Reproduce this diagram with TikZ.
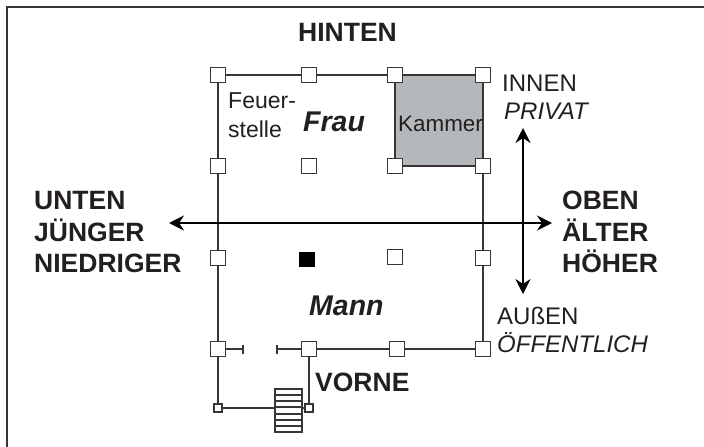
\documentclass[tikz,border=0pt]{standalone}
\usepackage{fontspec}
\setmainfont{Liberation Sans}
\usetikzlibrary{arrows.meta}
\definecolor{ink}{HTML}{231F20}
\definecolor{chamber}{HTML}{B5B8BA}
\tikzset{
 x=1pt,y=-1pt,
 wall/.style={draw=ink!90!white,line width=1.8pt},
 post/.style={draw=ink!90!white,fill=white,line width=1.5pt,minimum size=15pt,inner sep=0pt,outer sep=0pt},
 small/.style={post,minimum size=8pt,line width=1.2pt},
 blackpost/.style={draw=none,fill=black,minimum width=16pt,minimum height=15pt,inner sep=0pt,outer sep=0pt},
 axis/.style={draw=black,line width=1.8pt,{Stealth[length=15pt,width=15pt,inset=5pt]}-{Stealth[length=15pt,width=15pt,inset=5pt]}},
 head/.style={text=ink,font=\bfseries\fontsize{26.5}{30}\selectfont,inner sep=0pt,anchor=base west},
 room/.style={text=ink,font=\bfseries\itshape\fontsize{28.5}{30}\selectfont,inner sep=0pt,anchor=base west},
 plain/.style={text=ink,font=\fontsize{24}{26}\selectfont,inner sep=0pt,anchor=base west},
 slant/.style={text=ink,font=\itshape\fontsize{24}{26}\selectfont,inner sep=0pt,anchor=base west},
 fire/.style={text=ink,font=\fontsize{23}{26}\selectfont,inner sep=0pt,anchor=base west},
}
\begin{document}
\begin{tikzpicture}
\useasboundingbox (0,0) rectangle (704,447);
\fill[white] (0,0) rectangle (704,447);
\draw[draw=ink!90!white,line width=2pt] (7,447) -- (7,7) -- (704,7);
% chamber
\fill[chamber] (395,75) rectangle (483,166);
\draw[wall] (395,75) rectangle (483,166);
% posts
\node[post] (a1) at (218,75) {};
\node[post] (a2) at (309,75) {};
\node[post] (a3) at (395,75) {};
\node[post] (a4) at (483,75) {};
\node[post] (b1) at (218,166) {};
\node[post] (b2) at (309,166) {};
\node[post] (b3) at (395,166) {};
\node[post] (b4) at (483,166) {};
\node[post] (c1) at (218,258) {};
\node[blackpost] (c2) at (307,259) {};
\node[post] (c3) at (395,257) {};
\node[post] (c4) at (483,258) {};
\node[post] (d1) at (218,349) {};
\node[post] (d2) at (309,349) {};
\node[post] (d3) at (397,349) {};
\node[post] (d4) at (483,349) {};
\node[small] (e1) at (218,408) {};
\node[small] (e2) at (309,408) {};
\coordinate (t1) at (243,349);
\coordinate (t2) at (277,349);
% walls
\draw[wall] (a1) -- (a2);
\draw[wall] (a2) -- (a3);
\draw[wall] (a4) -- (b4);
\draw[wall] (b4) -- (c4);
\draw[wall] (c4) -- (d4);
\draw[wall] (d4) -- (d3);
\draw[wall] (d3) -- (d2);
\draw[wall] (d2) -- (t2);
\draw[wall] (d1) -- (t1);
\draw[wall] (a1) -- (b1);
\draw[wall] (b1) -- (c1);
\draw[wall] (c1) -- (d1);
\draw[wall] (d1) -- (e1);
\draw[wall] (e1) -- (e2);
\draw[wall] (d2) -- (e2);
\draw[wall,line width=1.3pt] (243,344.5) -- (243,353.5);
\draw[wall,line width=1.3pt] (277,344.5) -- (277,353.5);
% stairs
\node[draw=ink!90!white,fill=white,line width=1.3pt,minimum width=27pt,minimum height=43pt,inner sep=0pt] (st) at (288.5,410.5) {};
\foreach \y in {395,401,407,414,420,426}
  \draw[draw=ink!90!white,line width=1.3pt] (275,\y) -- (302,\y);
% axes
\coordinate (hl) at (169,223); \coordinate (hr) at (552,223);
\coordinate (vt) at (523,128); \coordinate (vb) at (523,294);
\draw[axis] (hl) -- (hr);
\draw[axis] (vt) -- (vb);
% text
\node[head] (hinten) at (298,41) {HINTEN};
\node[head] (unten) at (34,209) {UNTEN};
\node[head] (juenger) at (34,241) {JÜNGER};
\node[head] (nied) at (34,272) {NIEDRIGER};
\node[head] (oben) at (562,209) {OBEN};
\node[head] (aelter) at (562,241) {ÄLTER};
\node[head] (hoeher) at (562,272) {HÖHER};
\node[head] (vorne) at (315,391) {VORNE};
\node[room] (frau) at (303,131) {Frau};
\node[room] (mann) at (309,315) {Mann};
\node[fire] (feuer) at (228,108) {Feuer-};
\node[fire] (stelle) at (228,137) {stelle};
\node[text=ink,font=\fontsize{22.4}{26}\selectfont,inner sep=0pt,anchor=base west] (kammer) at (398,131) {Kammer};
\node[plain] (innen) at (502,91) {INNEN};
\node[slant] (privat) at (504,119) {PRIVAT};
\node[plain] (aussen) at (497,324) {AUßEN};
\node[slant] (oeff) at (497,352) {ÖFFENTLICH};
\end{tikzpicture}
\end{document}
